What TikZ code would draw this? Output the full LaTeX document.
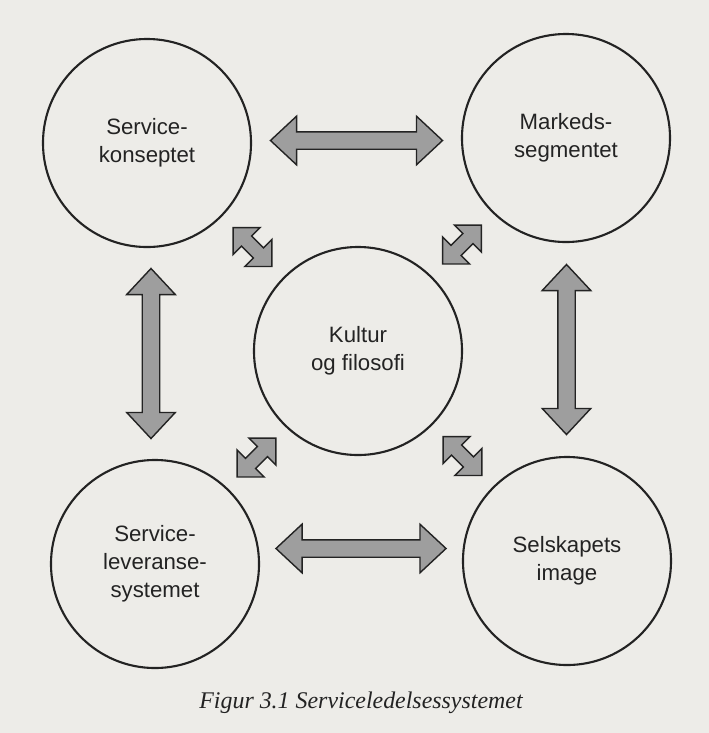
\documentclass[tikz,border=0pt]{standalone}
\usepackage{fontspec}
\setmainfont{Liberation Serif}
\setsansfont{Liberation Sans}
\usetikzlibrary{shapes.arrows}
\definecolor{paper}{RGB}{237,236,232}
\definecolor{arrowgray}{RGB}{158,158,158}
\definecolor{ink}{RGB}{35,35,35}
\tikzset{
  circ/.style={circle, draw=ink, line width=1.5pt, minimum size=5.2cm, align=center,
    text=ink, font=\sffamily\fontsize{15.8}{20}\selectfont},
  bigarrow/.style={double arrow, draw=ink, fill=arrowgray, line width=1pt,
    inner xsep=0pt, inner ysep=0.2cm, minimum width=0pt, minimum height=4.25cm,
    double arrow head extend=0.39cm, double arrow tip angle=86},
  smallarrow/.style={bigarrow, inner ysep=0.16cm, minimum height=1.375cm,
    double arrow head extend=0.3cm, double arrow tip angle=90}
}
\begin{document}
\begin{tikzpicture}[x=0.025cm,y=-0.025cm]
  \fill[paper] (0,0) rectangle (709,733);
  \node[circ] (konsept) at (147,143) {Service-\\konseptet};
  \node[circ] (marked) at (566,138) {Markeds-\\segmentet};
  \node[circ] (kultur) at (358,351) {Kultur\\og filosofi};
  \node[circ] (leveranse) at (155,564) {Service-\\leveranse-\\systemet};
  \node[circ] (image) at (567,561) {Selskapets\\image};
  \path (konsept) -- (marked) node[midway, bigarrow, minimum height=4.3cm] {};
  \path (konsept) -- (leveranse) node[midway, bigarrow, rotate=90] {};
  \path (marked) -- (image) node[midway, bigarrow, rotate=90] {};
  \path (leveranse) -- (image) node[midway, bigarrow, yshift=0.35cm] {};
  \path (konsept) -- (kultur) node[midway, smallarrow, rotate=-45] {};
  \path (marked) -- (kultur) node[midway, smallarrow, rotate=45] {};
  \path (leveranse) -- (kultur) node[midway, smallarrow, rotate=45] {};
  \path (image) -- (kultur) node[midway, smallarrow, rotate=-45] {};
  \node[anchor=base, text=ink, font=\itshape\fontsize{17}{20}\selectfont] (caption)
    at (361,708) {Figur 3.1 Serviceledelsessystemet};
\end{tikzpicture}
\end{document}
